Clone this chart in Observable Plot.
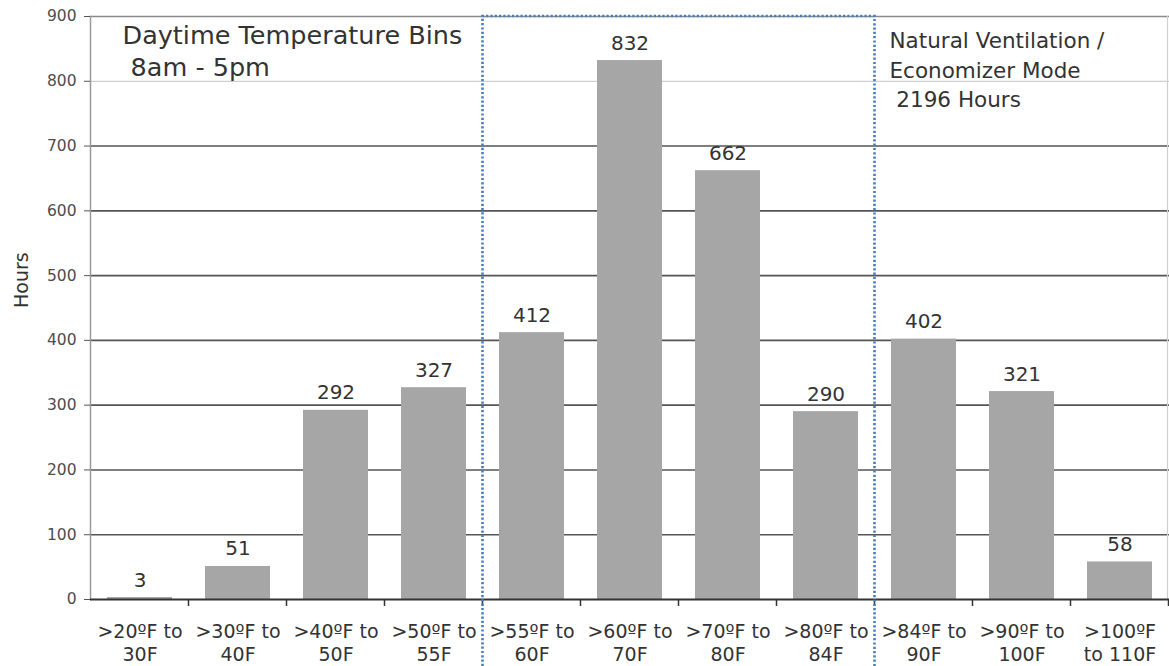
<!DOCTYPE html>
<html><head><meta charset="utf-8">
<script src="https://cdn.jsdelivr.net/npm/d3@7"></script>
<script src="https://cdn.jsdelivr.net/npm/@observablehq/plot@0.6"></script>
<style>body{margin:0;background:#fff;}</style>
</head><body><div id="chart"></div>
<script>
const categories = [">20ºF to\n30F", ">30ºF to\n40F", ">40ºF to\n50F", ">50ºF to\n55F", ">55ºF to\n60F", ">60ºF to\n70F", ">70ºF to\n80F", ">80ºF to\n84F", ">84ºF to\n90F", ">90ºF to\n100F", ">100ºF\nto 110F"];
const hours = [3, 51, 292, 327, 412, 832, 662, 290, 402, 321, 58];
const yTicks = [0, 100, 200, 300, 400, 500, 600, 700, 800, 900];
const darkGrid = [100, 200, 300, 400, 500, 600, 700];
const lightGrid = [800];
const topGrid = [900];
const ventFirst = categories[4];
const ventLast = categories[7];
const noteLeft = "Daytime Temperature Bins\n 8am - 5pm";
const noteRight = "Natural Ventilation /\nEconomizer Mode\n 2196 Hours";
const yLabel = "Hours";

const data = categories.map((c, i) => ({bin: c, hours: hours[i]}));

const W = 1169, H = 666, ml = 90, mr = 0, mt = 16, mb = 67;
const font = "DejaVu Sans, Verdana, sans-serif";

const chart = Plot.plot({
  width: W, height: H,
  marginLeft: ml, marginRight: mr, marginTop: mt, marginBottom: mb,
  style: {fontFamily: font, background: "#fff", overflow: "visible"},
  x: {domain: categories, paddingInner: 0.335, paddingOuter: 0.1675, label: null},
  y: {domain: [0, 900], label: null},
  marks: [
    Plot.ruleY(lightGrid, {stroke: "#cfcfcf", strokeWidth: 1.2}),
    Plot.ruleY(topGrid, {stroke: "#8a8a8a", strokeWidth: 1.5}),
    Plot.ruleY(darkGrid, {stroke: "#555", strokeWidth: 1.6}),
    Plot.frame({anchor: "left", stroke: "#9a9a9a", strokeWidth: 1.5}),
    Plot.frame({anchor: "right", stroke: "#d0d0d0", strokeWidth: 1.2, dx: -2}),
    Plot.barY(data, {x: "bin", y: "hours", fill: "#a6a6a6"}),
    Plot.text(data, {x: "bin", y: "hours", text: d => String(d.hours), lineAnchor: "bottom", dy: -11, fontSize: 20, fill: "#333"}),
    Plot.ruleY([0], {stroke: "#333", strokeWidth: 2}),
    Plot.axisY({ticks: yTicks, tickSize: 6, tickPadding: 8, fontSize: 15.5, fill: "#4d4d4d", stroke: "#555", label: null}),
    Plot.axisX({tickSize: 0, tickPadding: 23, fontSize: 19, lineHeight: 1.17, fill: "#333", label: null}),
    Plot.text([yLabel], {frameAnchor: "left", dx: -69, dy: 0, rotate: -90, fontSize: 19, fill: "#333"}),
    Plot.text([noteLeft], {frameAnchor: "top-left", dx: 32, dy: 4.5, lineAnchor: "top", textAnchor: "start", fontSize: 25.5, lineHeight: 1.25, fill: "#333"}),
    Plot.text([noteRight], {frameAnchor: "top-left", dx: 799, dy: 11, lineAnchor: "top", textAnchor: "start", fontSize: 21.5, lineHeight: 1.37, fill: "#333"})
  ]
});
document.getElementById("chart").appendChild(chart);

// boundary ticks and dotted box, positioned from Plot's own scales
const sx = chart.scale("x"), sy = chart.scale("y");
const step = sx.step, bw = sx.bandwidth, gap = (step - bw) / 2;
const svg = d3.select(chart);
const y0 = sy.apply(0);
const g = svg.append("g");
categories.forEach((c, i) => {
  const xb = sx.apply(c) + bw + gap;
  g.append("line").attr("x1", xb).attr("x2", xb).attr("y1", y0).attr("y2", y0 + 7)
    .attr("stroke", "#333").attr("stroke-width", 1.5);
});
const xL = sx.apply(ventFirst) - gap;
const xR = sx.apply(ventLast) + bw + gap;
const yT = sy.apply(900);
svg.append("path")
  .attr("d", `M${xL},${H}V${yT}H${xR}V${H}`)
  .attr("fill", "none").attr("stroke", "#4a7ebb").attr("stroke-width", 2.6)
  .attr("stroke-dasharray", "2.2 2.1");
</script>
</body></html>
